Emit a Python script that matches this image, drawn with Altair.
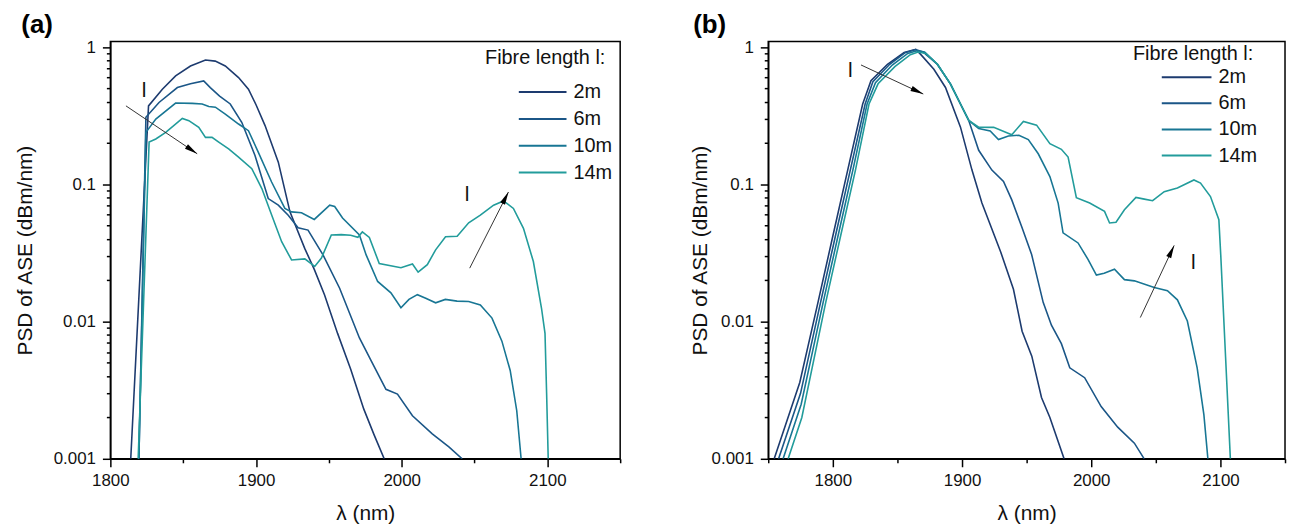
import altair as alt
import pandas as pd

FONT = "Liberation Sans"
SERIES = ["2m", "6m", "10m", "14m"]
COLORS = ["#1d3b6f", "#1b5687", "#187694", "#229c9b"]

# ---------------- Panel (a) ----------------
A_2M_X = [1814, 1826.2, 1835.7, 1844.8, 1855, 1865.3, 1872, 1878.9, 1888, 1894.8, 1900, 1906.2, 1915.3, 1923.3,
          1933.5, 1940, 1947, 1956, 1965, 1974, 1981, 1988]
A_2M_Y = [0.001, 0.373, 0.493, 0.617, 0.728, 0.805, 0.79, 0.728, 0.60, 0.493, 0.38, 0.268, 0.145, 0.063,
          0.034, 0.024, 0.0157, 0.0082, 0.0045, 0.0023, 0.0015, 0.001]

A_6M_X = [1819.6, 1824.4, 1833.4, 1846, 1855, 1864.1, 1868.6, 1875, 1882.3, 1890.2, 1899.3, 1908.4, 1915.3,
          1922.1, 1928.9, 1935.7, 1946, 1957.4, 1971, 1979, 1989.2, 1997.1, 2007.4, 2021, 2032.4, 2041.5]
A_6M_Y = [0.001, 0.308, 0.395, 0.507, 0.54, 0.567, 0.507, 0.44, 0.385, 0.283, 0.162, 0.0787, 0.0705,
          0.0596, 0.0482, 0.0464, 0.0306, 0.0175, 0.0076, 0.0052, 0.00321, 0.00296, 0.00206, 0.00152, 0.00122, 0.001]

A_10M_X = [1819.6, 1824.4, 1831.2, 1844.8, 1856.2, 1863, 1867.6, 1872.1, 1878.9, 1888, 1894.8, 1901.6, 1910.7,
           1919.8, 1924.4, 1931.2, 1940, 1950.6, 1954, 1959.4, 1971, 1975.6, 1983.5, 1992.6, 1999.5, 2005,
           2010.8, 2016.5, 2023.3, 2030, 2038, 2046, 2054, 2062, 2068.8, 2074.5, 2079, 2082]
A_10M_Y = [0.001, 0.239, 0.299, 0.391, 0.389, 0.385, 0.369, 0.365, 0.325, 0.275, 0.246, 0.171, 0.104,
           0.0667, 0.063, 0.062, 0.0555, 0.0705, 0.069, 0.0568, 0.0427, 0.0306, 0.0196, 0.0162, 0.0126, 0.0145,
           0.0157, 0.0148, 0.0137, 0.0145, 0.0141, 0.014, 0.0132, 0.0106, 0.0072, 0.0044, 0.00224, 0.001]

A_14M_X = [1819.1, 1826.6, 1831.2, 1838, 1849.4, 1853.9, 1860.7, 1865.3, 1869.8, 1874.4, 1881.2, 1888, 1897.1,
           1904, 1910.8, 1917.6, 1924.4, 1933.5, 1940.3, 1944.9, 1951.7, 1958.5, 1965, 1969.9, 1973, 1977.8,
           1984.6, 1999.5, 2007.4, 2011.3, 2017.6, 2023.3, 2030.1, 2038.1, 2046, 2054, 2063.1, 2069.9, 2076.7,
           2083.6, 2090.4, 2096, 2098.4, 2099.5, 2100.6]
A_14M_Y = [0.001, 0.203, 0.214, 0.239, 0.302, 0.291, 0.26, 0.22, 0.22, 0.203, 0.181, 0.158, 0.13,
           0.0931, 0.0596, 0.0382, 0.0281, 0.0286, 0.0252, 0.029, 0.0427, 0.043, 0.0425, 0.0411, 0.045, 0.041,
           0.0265, 0.0247, 0.0263, 0.0229, 0.026, 0.0333, 0.0415, 0.0418, 0.0525, 0.0596, 0.0705, 0.0757, 0.0667,
           0.0478, 0.0274, 0.0125, 0.0082, 0.003, 0.001]

# ---------------- Panel (b) ----------------
B_2M_X = [1754.6, 1774.4, 1788.5, 1800, 1811.5, 1823.1, 1829.5, 1842.3, 1855.2, 1864.2, 1868, 1878.2, 1887.2,
          1898.8, 1907.7, 1915.4, 1930, 1939.8, 1946.5, 1954, 1961.5, 1968, 1979]
B_2M_Y = [0.001, 0.0036, 0.0138, 0.042, 0.127, 0.385, 0.569, 0.75, 0.912, 0.962, 0.885, 0.69, 0.508,
          0.261, 0.127, 0.073, 0.032, 0.0172, 0.0085, 0.0056, 0.0028, 0.002, 0.001]

B_6M_X = [1758, 1775, 1790.5, 1802, 1813.5, 1825, 1831, 1844, 1856, 1864, 1870, 1880.8, 1891.1, 1898.8, 1905.2,
          1912.9, 1923.1, 1932.1, 1938.5, 1946.2, 1953.8, 1962.8, 1969.2, 1976.9, 1983.4, 1994.9, 2007.7,
          2020.5, 2033.4, 2041]
B_6M_Y = [0.001, 0.003, 0.0138, 0.042, 0.127, 0.385, 0.56, 0.75, 0.91, 0.96, 0.92, 0.75, 0.537, 0.385, 0.292,
          0.177, 0.127, 0.105, 0.077, 0.049, 0.031, 0.0138, 0.0094, 0.0069, 0.0046, 0.0039, 0.0024,
          0.0017, 0.0013, 0.001]

B_10M_X = [1761.5, 1775.5, 1792.5, 1804, 1815.5, 1826.5, 1833, 1846, 1858, 1865, 1871, 1881, 1891.1, 1898.8,
           1905.2, 1912.9, 1921.8, 1928.2, 1935.9, 1944, 1951.3, 1959, 1968, 1974.4, 1978.2, 1989.8, 1997.5,
           2004, 2010, 2018, 2025.7, 2033.4, 2048.8, 2059, 2066.7, 2074.4, 2082, 2087.2, 2090.3]
B_10M_Y = [0.001, 0.0025, 0.0138, 0.042, 0.127, 0.385, 0.55, 0.74, 0.9, 0.94, 0.92, 0.75, 0.537, 0.385,
           0.292, 0.255, 0.245, 0.212, 0.225, 0.228, 0.212, 0.167, 0.114, 0.073, 0.0443, 0.0374, 0.0284,
           0.0218, 0.0225, 0.0241, 0.0202, 0.0198, 0.0177, 0.0168, 0.0144, 0.0101, 0.0046, 0.0021, 0.001]

B_14M_X = [1765.4, 1776, 1794.5, 1806, 1817.5, 1828, 1835, 1848, 1860, 1866, 1872, 1881, 1891.1, 1898.8, 1905.2,
           1912.9, 1924.5, 1938.5, 1947.5, 1957.7, 1968, 1976.9, 1982.1, 1988.5, 1998.8, 2010.3, 2014.2, 2019.2,
           2025.7, 2034.6, 2041.1, 2047.5, 2056.5, 2066.7, 2079.5, 2084.6, 2092.3, 2098.8, 2100.3, 2104, 2107.7]
B_14M_Y = [0.001, 0.002, 0.0138, 0.042, 0.127, 0.385, 0.54, 0.72, 0.88, 0.92, 0.90, 0.75, 0.537, 0.385, 0.292,
           0.261, 0.26, 0.230, 0.287, 0.27, 0.198, 0.18, 0.158, 0.08, 0.073, 0.0635, 0.0523, 0.053,
           0.0653, 0.0802, 0.078, 0.076, 0.0885, 0.094, 0.1076, 0.102, 0.0815, 0.0553, 0.03, 0.0055, 0.001]

# ---------------- Annotations (arrows and "l" labels) ----------------
ARR_A_X = [1810.7, 2046.7]
ARR_A_Y = [0.373, 0.0245]
ARR_A_X2 = [1859.6, 2073.3]
ARR_A_Y2 = [0.167, 0.0879]
ARR_A_ANGLE = [124, 27]
LBL_A_X = [1823.2, 2044.9]
LBL_A_Y = [0.48, 0.084]

ARR_B_X = [1821.8, 2038.0]
ARR_B_Y = [0.741, 0.0107]
ARR_B_X2 = [1870.0, 2064.2]
ARR_B_Y2 = [0.455, 0.0359]
ARR_B_ANGLE = [115, 25]
LBL_B_X = [1813.6, 2079.0]
LBL_B_Y = [0.671, 0.0268]

# ---------------- Axis tick values ----------------
X_MAJOR = [1800, 1900, 2000, 2100]
X_MINOR_A = [1850, 1950, 2050, 2150]
X_MINOR_B = [1750, 1850, 1950, 2050, 2150]
Y_MAJOR = [0.001, 0.01, 0.1, 1]
Y_MINOR = [0.002, 0.003, 0.004, 0.005, 0.006, 0.007, 0.008, 0.009,
           0.02, 0.03, 0.04, 0.05, 0.06, 0.07, 0.08, 0.09,
           0.2, 0.3, 0.4, 0.5, 0.6, 0.7, 0.8, 0.9]


def series_df(xs_list, ys_list):
    rows = []
    for name, xs, ys in zip(SERIES, xs_list, ys_list):
        for i, (x, y) in enumerate(zip(xs, ys)):
            rows.append({"x": x, "y": y, "series": name, "idx": i})
    return pd.DataFrame(rows)


DF_A = series_df([A_2M_X, A_6M_X, A_10M_X, A_14M_X], [A_2M_Y, A_6M_Y, A_10M_Y, A_14M_Y])
DF_B = series_df([B_2M_X, B_6M_X, B_10M_X, B_14M_X], [B_2M_Y, B_6M_Y, B_10M_Y, B_14M_Y])

Y_LABEL_EXPR = ("datum.value == 1 ? '1' : datum.value == 0.1 ? '0.1' : "
                "datum.value == 0.01 ? '0.01' : datum.value == 0.001 ? '0.001' : ''")

TICK_STYLE = dict(ticks=True, tickColor="#000000", tickWidth=1.5, tickOpacity=1)


def panel(df, xmin, width, x_minor, arr, lbl, title, title_dx, ytitle_pad, leg_x, leg_y, leg_sym_off,
          leg_title_pad, leg_row_pad, sym_len):
    xscale = alt.Scale(domain=[xmin, 2150], nice=False, zero=False)
    yscale = alt.Scale(type="log", domain=[0.001, 1.1], nice=False)
    xaxis = alt.Axis(title="λ (nm)", values=X_MAJOR, format="d", orient="bottom", tickSize=8,
                     labelPadding=6, titlePadding=14, labelFlush=False, labelOverlap=False, **TICK_STYLE)
    yaxis = alt.Axis(title="PSD of ASE (dBm/nm)", values=Y_MAJOR, orient="left", tickSize=8,
                     labelExpr=Y_LABEL_EXPR,
                     labelPadding=7, titlePadding=ytitle_pad, labelFlush=False, labelOverlap=False,
                     **TICK_STYLE)
    xaxis_minor = alt.Axis(title=None, values=x_minor, orient="bottom", tickSize=4, labels=False,
                           domain=False, **TICK_STYLE)
    yaxis_minor = alt.Axis(title=None, values=Y_MINOR, orient="left", tickSize=4, labels=False,
                           domain=False, **TICK_STYLE)

    lines = alt.Chart(df).mark_line(strokeWidth=1.6, clip=True).encode(
        x=alt.X("x:Q", scale=xscale, axis=xaxis),
        y=alt.Y("y:Q", scale=yscale, axis=yaxis),
        color=alt.Color("series:N",
                        scale=alt.Scale(domain=SERIES, range=COLORS),
                        legend=alt.Legend(title="Fibre length l:", orient="none",
                                          legendX=leg_x, legendY=leg_y, titleAnchor="start",
                                          symbolType="stroke", symbolSize=sym_len * sym_len,
                                          symbolStrokeWidth=2, symbolOffset=leg_sym_off,
                                          labelOffset=6, titlePadding=leg_title_pad,
                                          clipHeight=20,
                                          rowPadding=leg_row_pad, padding=0)),
        order=alt.Order("idx:Q"),
    )

    arr_df = pd.DataFrame({"x": arr[0], "y": arr[1], "x2": arr[2], "y2": arr[3], "angle": arr[4]})
    rules = alt.Chart(arr_df).mark_rule(color="#333333", strokeWidth=1).encode(
        x=alt.X("x:Q", scale=xscale, axis=xaxis_minor),
        y=alt.Y("y:Q", scale=yscale, axis=yaxis_minor),
        x2="x2:Q", y2="y2:Q")
    heads = alt.Chart(arr_df).mark_point(shape="M0,0L0.42,2L-0.42,2Z", filled=True, color="#000000",
                                         opacity=1, size=169).encode(
        x=alt.X("x2:Q", scale=xscale, axis=None),
        y=alt.Y("y2:Q", scale=yscale, axis=None),
        angle=alt.Angle("angle:Q", scale=None))
    lbl_df = pd.DataFrame({"x": lbl[0], "y": lbl[1], "t": ["l", "l"]})
    texts = alt.Chart(lbl_df).mark_text(font=FONT, fontSize=21, color="#111111").encode(
        x=alt.X("x:Q", scale=xscale, axis=None),
        y=alt.Y("y:Q", scale=yscale, axis=None),
        text="t:N")

    return alt.layer(lines, rules, heads, texts).resolve_axis(
        x="independent", y="independent"
    ).properties(
        width=width, height=420,
        title=alt.TitleParams(title, anchor="start", frame="bounds", fontSize=26, fontWeight="bold",
                              font=FONT, offset=0, dx=title_dx, color="#000000"))


pa = panel(DF_A, 1800, 513, X_MINOR_A, (ARR_A_X, ARR_A_Y, ARR_A_X2, ARR_A_Y2, ARR_A_ANGLE),
           (LBL_A_X, LBL_A_Y), "(a)", 7, 18, 377, 7, 33, 14, 7, 48)
pb = panel(DF_B, 1750, 520, X_MINOR_B, (ARR_B_X, ARR_B_Y, ARR_B_X2, ARR_B_Y2, ARR_B_ANGLE),
           (LBL_B_X, LBL_B_Y), "(b)", 4, 1, 367, 3, 28, 3, 6.3, 50)

chart = alt.hconcat(pa, pb, spacing=66).resolve_scale(color="independent").resolve_legend(
    color="independent"
).properties(
    padding={"left": 5, "top": 1, "right": 0, "bottom": 0}
).configure_view(
    stroke="#000000", strokeWidth=1.5
).configure_axis(
    domainColor="#000000", domainWidth=1.5,
    labelFont=FONT, labelFontSize=17, labelColor="#111111",
    titleFont=FONT, titleFontSize=21, titleFontWeight="normal", titleColor="#111111",
    grid=False
).configure_legend(
    labelFont=FONT, labelFontSize=20, labelColor="#111111",
    titleFont=FONT, titleFontSize=20, titleFontWeight="normal", titleColor="#111111"
).configure_title(baseline="top")

chart.save("out.html", embed_options={"renderer": "svg", "actions": False})
